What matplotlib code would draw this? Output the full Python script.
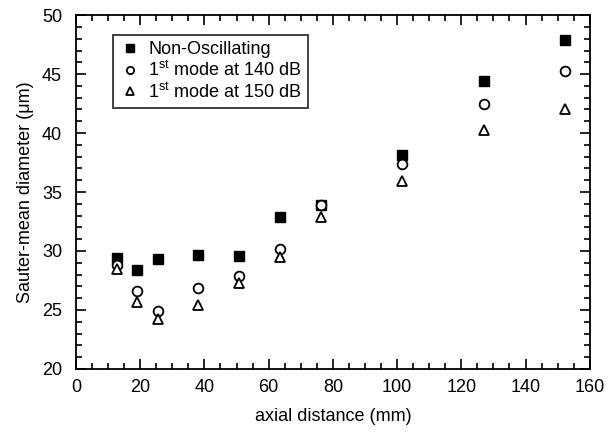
import matplotlib
matplotlib.use("Agg")
import matplotlib.pyplot as plt
from matplotlib.ticker import MultipleLocator

plt.rcParams['font.family'] = ['Liberation Sans', 'DejaVu Sans']
plt.rcParams['mathtext.fontset'] = 'custom'
plt.rcParams['mathtext.rm'] = 'Liberation Sans'
plt.rcParams['mathtext.it'] = 'Liberation Sans'

x = [12.7, 19.05, 25.4, 38.1, 50.8, 63.5, 76.2, 101.6, 127.0, 152.4]
non_osc = [29.4, 28.4, 29.3, 29.7, 29.6, 32.9, 33.9, 38.1, 44.4, 47.9]
mode_140 = [28.8, 26.6, 24.9, 26.9, 27.9, 30.2, 33.9, 37.4, 42.5, 45.3]
mode_150 = [28.5, 25.7, 24.2, 25.4, 27.3, 29.5, 32.9, 35.9, 40.3, 42.0]

labels = ['Non-Oscillating', r'1$^{\rm st}$ mode at 140 dB', r'1$^{\rm st}$ mode at 150 dB']

fig = plt.figure(figsize=(6.08, 4.32), dpi=100)
ax = fig.add_axes([0.125, 0.146, 0.845, 0.819])

ax.plot(x, non_osc, 's', color='black', markersize=7, label=labels[0], zorder=3)
ax.plot(x, mode_140, 'o', markerfacecolor='white', markeredgecolor='black',
        markeredgewidth=1.3, markersize=7, label=labels[1], zorder=4)
ax.plot(x, mode_150, '^', markerfacecolor='white', markeredgecolor='black',
        markeredgewidth=1.3, markersize=7, label=labels[2], zorder=5)

ax.set_xlim(0, 160)
ax.set_ylim(20, 50)
ax.xaxis.set_major_locator(MultipleLocator(20))
ax.xaxis.set_minor_locator(MultipleLocator(5))
ax.yaxis.set_major_locator(MultipleLocator(5))
ax.yaxis.set_minor_locator(MultipleLocator(1))
ax.tick_params(which='both', direction='in', top=True, right=True, labelsize=13, width=1.2)
ax.tick_params(which='major', length=7)
ax.tick_params(axis='x', which='major', pad=7)
ax.tick_params(axis='y', which='major', pad=10)
ax.tick_params(which='minor', length=4)
for s in ax.spines.values():
    s.set_linewidth(1.3)

ax.set_xlabel('axial distance (mm)', fontsize=13, labelpad=9)
ax.set_ylabel('Sauter-mean diameter (\u03bcm)', fontsize=13, labelpad=6)

leg = ax.legend(loc='upper left', bbox_to_anchor=(0.055, 0.97), fontsize=13,
                frameon=True, fancybox=False, edgecolor='black', markerscale=0.75,
                handletextpad=0.4, handlelength=1.2, borderpad=0.35, labelspacing=0.12)
leg.get_frame().set_linewidth(1.3)

fig.savefig('out.png', dpi=100)
